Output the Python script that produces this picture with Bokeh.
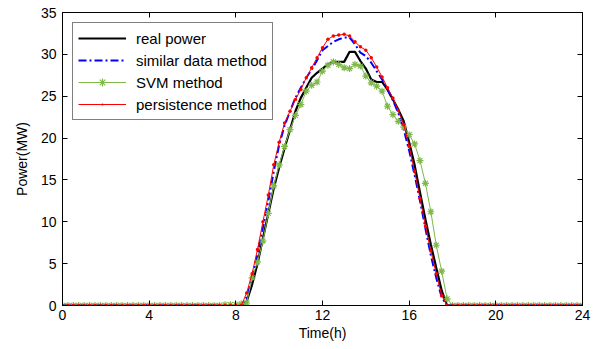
from bokeh.plotting import figure
from bokeh.models import LinearAxis, FixedTicker, Range1d, Legend, LegendItem
from bokeh.embed import file_html
from bokeh.resources import INLINE

# time grid, 15-minute steps from 0 h to 24 h
time_h = [i * 0.25 for i in range(97)]

real_power = [
    0, 0, 0, 0, 0, 0, 0, 0, 0, 0, 0, 0, 0, 0, 0, 0, 0, 0, 0, 0, 0, 0, 0, 0,
    0, 0, 0, 0, 0, 0, 0, 0, 0,
    0, 0.5, 2.5, 5.0, 8.0, 11.0, 14.0, 16.5, 18.8, 21.0, 23.2, 24.8, 26.0,
    27.2, 27.8, 28.3, 28.8, 29.1, 29.1, 29.1, 30.3, 30.3, 29.2, 28.3, 27.0,
    26.7, 26.7, 25.8, 24.6, 23.4, 22.0, 19.5, 16.8, 13.5, 10.3, 7.3, 4.5,
    1.8, 0,
    0, 0, 0, 0, 0, 0, 0, 0, 0, 0, 0, 0, 0, 0, 0, 0, 0, 0, 0, 0, 0, 0, 0, 0, 0,
]

similar_data = [
    0, 0, 0, 0, 0, 0, 0, 0, 0, 0, 0, 0, 0, 0, 0, 0, 0, 0, 0, 0, 0, 0, 0, 0,
    0, 0, 0, 0, 0, 0, 0, 0, 0,
    0, 1.0, 3.2, 6.2, 9.3, 12.5, 16.0, 19.2, 21.5, 23.2, 24.8, 26.0, 27.2,
    28.2, 29.3, 30.5, 31.0, 31.5, 31.8, 32.0, 32.0, 31.2, 30.2, 29.8, 29.0,
    28.0, 27.0, 25.8, 24.5, 23.0, 21.0, 18.5, 15.6, 12.5, 9.2, 6.0, 3.3,
    1.0, 0,
    0, 0, 0, 0, 0, 0, 0, 0, 0, 0, 0, 0, 0, 0, 0, 0, 0, 0, 0, 0, 0, 0, 0, 0, 0,
]

svm = [
    0, 0, 0, 0, 0, 0, 0, 0, 0, 0, 0, 0, 0, 0, 0, 0, 0, 0, 0, 0, 0, 0, 0, 0,
    0, 0, 0, 0, 0, 0, 0.1, 0.1, 0.1,
    0.2, 0.3, 3.3, 5.2, 7.7, 11.0, 14.3, 16.8, 19.0, 21.0, 22.7, 24.0, 25.6,
    26.3, 26.7, 28.0, 28.7, 29.1, 28.8, 28.4, 28.3, 28.8, 28.6, 27.4, 26.6,
    26.2, 25.6, 23.8, 22.8, 22.0, 21.3, 20.4, 19.3, 17.3, 14.6, 11.2, 7.2,
    4.1, 0.8,
    0, 0, 0, 0, 0, 0, 0, 0, 0, 0, 0, 0, 0, 0, 0, 0, 0, 0, 0, 0, 0, 0, 0, 0, 0,
]

persistence = [
    0, 0, 0, 0, 0, 0, 0, 0, 0, 0, 0, 0, 0, 0, 0, 0, 0, 0, 0, 0, 0, 0, 0, 0,
    0, 0, 0, 0, 0, 0, 0, 0, 0,
    0, 1.5, 3.8, 6.7, 10.0, 13.2, 16.8, 19.5, 21.8, 23.2, 24.6, 25.8, 27.2,
    28.4, 29.6, 30.8, 31.8, 32.2, 32.3, 32.4, 32.2, 31.5, 30.9, 30.5, 29.6,
    28.5, 27.3, 26.0, 24.8, 23.3, 21.6, 19.0, 16.0, 12.8, 9.5, 6.5, 3.8,
    1.2, 0,
    0, 0, 0, 0, 0, 0, 0, 0, 0, 0, 0, 0, 0, 0, 0, 0, 0, 0, 0, 0, 0, 0, 0, 0, 0,
]

x_ticks = [0, 4, 8, 12, 16, 20, 24]
y_ticks = [0, 5, 10, 15, 20, 25, 30, 35]

FONT = "Liberation Sans"

p = figure(width=606, height=349, output_backend="svg", toolbar_location=None,
           x_range=Range1d(0, 24), y_range=Range1d(0, 35),
           min_border_left=62, min_border_right=24, min_border_top=12,
           min_border_bottom=44)
p.background_fill_color = "white"
p.border_fill_color = "white"
p.outline_line_color = "black"
p.outline_line_width = 1
p.xgrid.visible = False
p.ygrid.visible = False

for ax, ticks in ((p.xaxis[0], x_ticks), (p.yaxis[0], y_ticks)):
    ax.ticker = FixedTicker(ticks=ticks)
    ax.major_tick_in = 5
    ax.major_tick_out = 0
    ax.minor_tick_in = 0
    ax.minor_tick_out = 0
    ax.axis_line_color = "black"
    ax.major_tick_line_color = "black"
    ax.major_label_text_font = FONT
    ax.major_label_text_font_size = "14px"
    ax.major_label_text_color = "black"
    ax.axis_label_text_font = FONT
    ax.axis_label_text_font_size = "14px"
    ax.axis_label_text_font_style = "normal"
    ax.axis_label_text_color = "black"

p.xaxis[0].axis_label = "Time(h)"
p.yaxis[0].axis_label = "Power(MW)"
p.xaxis[0].major_label_standoff = 4
p.xaxis[0].axis_label_standoff = 2
p.yaxis[0].major_label_standoff = 6
p.yaxis[0].axis_label_standoff = 8

for loc, ticks in (("right", y_ticks), ("above", x_ticks)):
    a = LinearAxis(ticker=FixedTicker(ticks=ticks), major_tick_in=5,
                   major_tick_out=0, minor_tick_in=0, minor_tick_out=0,
                   major_label_text_font_size="0px",
                   major_label_text_color=None, axis_line_color="black")
    p.add_layout(a, loc)

GREEN = "#7db848"

r_real = p.line(time_h, real_power, line_color="black", line_width=2.2)
r_sim = p.line(time_h, similar_data, line_color="#0000ff", line_width=2,
               line_dash="8 3 2 3")
r_svm_l = p.line(time_h, svm, line_color=GREEN, line_width=1)
r_svm_m = p.scatter(time_h, svm, marker="asterisk", size=7, line_color=GREEN,
                    line_width=1.2)
r_per_l = p.line(time_h, persistence, line_color="#ff0000", line_width=1)
r_per_m = p.scatter(time_h, persistence, marker="dot", size=14,
                    line_color="#ff0000", fill_color="#ff0000")

legend = Legend(items=[
    LegendItem(label="real power", renderers=[r_real]),
    LegendItem(label="similar data method", renderers=[r_sim]),
    LegendItem(label="SVM method", renderers=[r_svm_l, r_svm_m]),
    LegendItem(label="persistence method", renderers=[r_per_l, r_per_m]),
], location="top_left")
legend.margin = 10
legend.padding = 5
legend.spacing = 2
legend.glyph_width = 48
legend.glyph_height = 20
legend.label_height = 20
legend.label_standoff = 10
legend.label_text_font = FONT
legend.label_text_font_size = "15px"
legend.label_text_color = "black"
legend.border_line_color = "black"
legend.border_line_width = 1
legend.background_fill_color = "white"
legend.background_fill_alpha = 1
p.add_layout(legend)

open("out.html", "w").write(file_html(p, INLINE))
